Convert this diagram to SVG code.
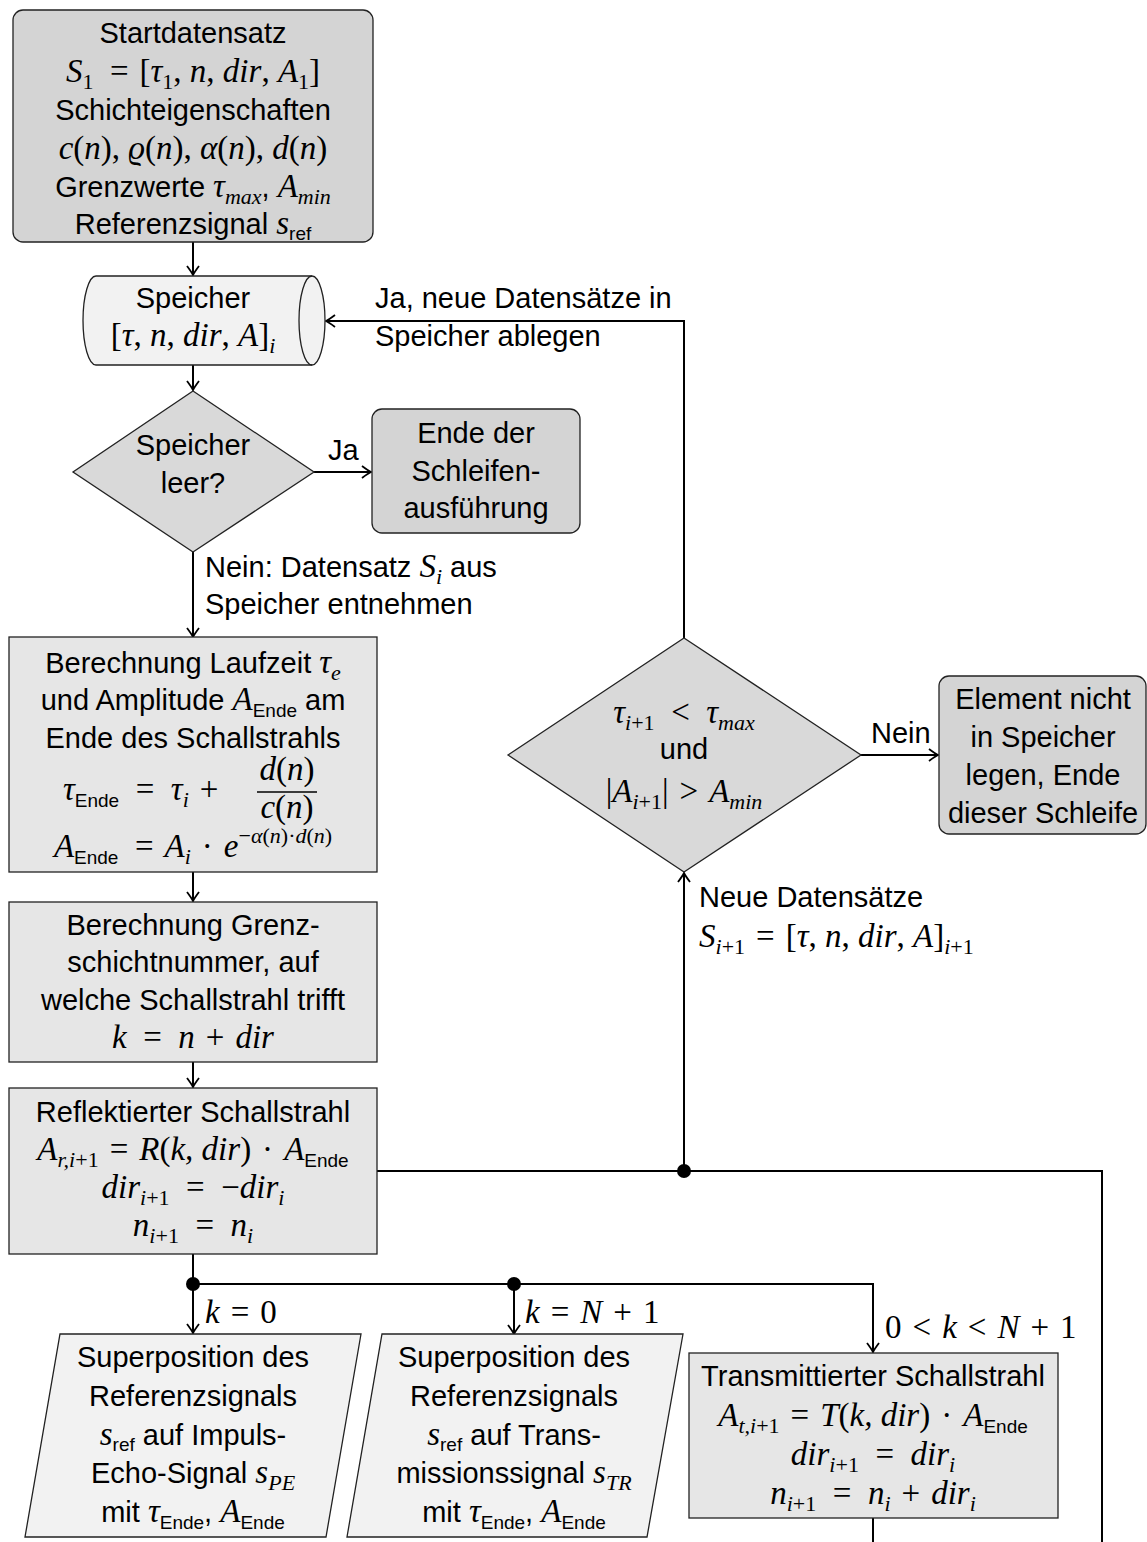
<svg xmlns="http://www.w3.org/2000/svg" width="1147" height="1542" viewBox="0 0 1147 1542">
<style>
.tx{font-family:"Liberation Sans",Arial,sans-serif;font-size:29px;fill:#000}
.c{text-anchor:middle}
.mi{font-family:"Liberation Serif","Times New Roman",serif;font-style:italic;font-size:33px}
.mr{font-family:"Liberation Serif","Times New Roman",serif;font-style:normal;font-size:33px}
.sb{font-size:22px}
.ssf{font-family:"Liberation Sans",Arial,sans-serif;font-style:normal;font-size:19px}
.dark{fill:#d4d4d4;stroke:#222;stroke-width:1.3}
.dia{fill:#d9d9d9;stroke:#222;stroke-width:1.3}
.mid{fill:#e6e6e6;stroke:#222;stroke-width:1.3}
.light{fill:#f2f2f2;stroke:#222;stroke-width:1.3}
.ln{fill:none;stroke:#000;stroke-width:2}
.ar{marker-end:url(#arr)}
</style>
<defs>
<marker id="arr" viewBox="-10 -7 12 14" refX="0" refY="0" markerWidth="12" markerHeight="14" orient="auto" markerUnits="userSpaceOnUse">
<path d="M-9,-6 Q-3,-1.5 0,0 Q-3,1.5 -9,6" fill="none" stroke="#000" stroke-width="1.8"/>
</marker>
</defs>

<g id="connectors">
<path class="ln ar" d="M193,242 V275"/>
<path class="ln ar" d="M193,365 V390"/>
<path class="ln ar" d="M314,472 H371"/>
<path class="ln ar" d="M193,552 V637"/>
<path class="ln ar" d="M193,872 V901"/>
<path class="ln ar" d="M193,1062 V1087"/>
<path class="ln ar" d="M193,1254 V1333"/>
<path class="ln ar" d="M193,1284 H873 V1352"/>
<path class="ln ar" d="M514,1284 V1334"/>
<path class="ln" d="M377,1171 H1102 V1542"/>
<path class="ln ar" d="M684,1171 V873"/>
<path class="ln ar" d="M684,638 V321 H326"/>
<path class="ln ar" d="M861,755 H938"/>
<path class="ln" d="M873,1518 V1542"/>
<circle cx="193" cy="1284" r="7" fill="#000"/>
<circle cx="514" cy="1284" r="7" fill="#000"/>
<circle cx="684" cy="1171" r="7" fill="#000"/>
<text class="tx" x="328" y="460">Ja</text>
<text class="tx" x="375" y="308">Ja, neue Datensätze in</text>
<text class="tx" x="375" y="346">Speicher ablegen</text>
<text class="tx" x="205" y="577">Nein: Datensatz <tspan class="mi">S</tspan><tspan class="mi sb" dy="7">i</tspan><tspan dy="-7"> aus</tspan></text>
<text class="tx" x="205" y="614">Speicher entnehmen</text>
<text class="tx" x="871" y="743">Nein</text>
<text class="tx" x="699" y="907">Neue Datensätze</text>
<text class="tx" x="699" y="947"><tspan class="mi">S</tspan><tspan class="mi sb" dy="7">i</tspan><tspan class="mr sb">+1</tspan><tspan class="mr" dy="-7">&#8196;=&#8196;[</tspan><tspan class="mi">τ</tspan><tspan class="mr">, </tspan><tspan class="mi">n</tspan><tspan class="mr">, </tspan><tspan class="mi">dir</tspan><tspan class="mr">, </tspan><tspan class="mi">A</tspan><tspan class="mr">]</tspan><tspan class="mi sb" dy="7">i</tspan><tspan class="mr sb">+1</tspan></text>
<text class="tx" x="205" y="1323"><tspan class="mi">k</tspan><tspan class="mr">&#8196;=&#8196;0</tspan></text>
<text class="tx" x="525" y="1323"><tspan class="mi">k</tspan><tspan class="mr">&#8196;=&#8196;</tspan><tspan class="mi">N</tspan><tspan class="mr">&#8196;+&#8196;1</tspan></text>
<text class="tx" x="885" y="1338"><tspan class="mr">0&#8196;&lt;&#8196;</tspan><tspan class="mi">k</tspan><tspan class="mr">&#8196;&lt;&#8196;</tspan><tspan class="mi">N</tspan><tspan class="mr">&#8196;+&#8196;1</tspan></text>
</g>

<g id="start">
<rect class="dark" x="13" y="10" width="360" height="232" rx="10"/>
<text class="tx c" x="193" y="43">Startdatensatz</text>
<text class="tx c" x="193" y="82"><tspan class="mi">S</tspan><tspan class="mr sb" dy="7">1</tspan><tspan class="mr" dy="-7">&#8194;=&#8196;[</tspan><tspan class="mi">τ</tspan><tspan class="mr sb" dy="7">1</tspan><tspan class="mr" dy="-7">, </tspan><tspan class="mi">n</tspan><tspan class="mr">, </tspan><tspan class="mi">dir</tspan><tspan class="mr">, </tspan><tspan class="mi">A</tspan><tspan class="mr sb" dy="7">1</tspan><tspan class="mr" dy="-7">]</tspan></text>
<text class="tx c" x="193" y="120">Schichteigenschaften</text>
<text class="tx c" x="193" y="159"><tspan class="mi">c</tspan><tspan class="mr">(</tspan><tspan class="mi">n</tspan><tspan class="mr">), </tspan><tspan class="mi">ϱ</tspan><tspan class="mr">(</tspan><tspan class="mi">n</tspan><tspan class="mr">), </tspan><tspan class="mi">α</tspan><tspan class="mr">(</tspan><tspan class="mi">n</tspan><tspan class="mr">), </tspan><tspan class="mi">d</tspan><tspan class="mr">(</tspan><tspan class="mi">n</tspan><tspan class="mr">)</tspan></text>
<text class="tx c" x="193" y="197">Grenzwerte <tspan class="mi">τ</tspan><tspan class="mi sb" dy="7">max</tspan><tspan dy="-7">, </tspan><tspan class="mi">A</tspan><tspan class="mi sb" dy="7">min</tspan></text>
<text class="tx c" x="193" y="234">Referenzsignal <tspan class="mi">s</tspan><tspan class="ssf" dy="6">ref</tspan></text>
</g>

<g id="speicher">
<path class="light" d="M96,276 H312 A13,44.5 0 0 1 312,365 H96 A13,44.5 0 0 1 96,276 Z"/>
<path d="M312,276 A13,44.5 0 0 0 312,365" fill="none" stroke="#222" stroke-width="1.3"/>
<text class="tx c" x="193" y="308">Speicher</text>
<text class="tx c" x="193" y="346"><tspan class="mr">[</tspan><tspan class="mi">τ</tspan><tspan class="mr">, </tspan><tspan class="mi">n</tspan><tspan class="mr">, </tspan><tspan class="mi">dir</tspan><tspan class="mr">, </tspan><tspan class="mi">A</tspan><tspan class="mr">]</tspan><tspan class="mi sb" dy="7">i</tspan></text>
</g>

<g id="leer">
<polygon class="dia" points="193,391 314,472 193,552 73,472"/>
<text class="tx c" x="193" y="455">Speicher</text>
<text class="tx c" x="193" y="493">leer?</text>
</g>

<g id="ende">
<rect class="dark" x="372" y="409" width="208" height="124" rx="10"/>
<text class="tx c" x="476" y="443">Ende der</text>
<text class="tx c" x="476" y="481">Schleifen-</text>
<text class="tx c" x="476" y="518">ausführung</text>
</g>

<g id="laufzeit">
<rect class="mid" x="9" y="637" width="368" height="235"/>
<text class="tx c" x="193" y="673">Berechnung Laufzeit <tspan class="mi">τ</tspan><tspan class="mi sb" dy="7">e</tspan></text>
<text class="tx c" x="193" y="710">und Amplitude <tspan class="mi">A</tspan><tspan class="ssf" dy="7">Ende</tspan><tspan dy="-7"> am</tspan></text>
<text class="tx c" x="193" y="748">Ende des Schallstrahls</text>
<text class="tx" x="63" y="800"><tspan class="mi">τ</tspan><tspan class="ssf" dy="7">Ende</tspan><tspan class="mr" dy="-7">&#8194;=&#8194;</tspan><tspan class="mi">τ</tspan><tspan class="mi sb" dy="7">i</tspan><tspan class="mr" dy="-7">&#8196;+</tspan></text>
<text class="tx c" x="287" y="780"><tspan class="mi">d</tspan><tspan class="mr">(</tspan><tspan class="mi">n</tspan><tspan class="mr">)</tspan></text>
<path d="M257,792 H317" stroke="#000" stroke-width="1.3"/>
<text class="tx c" x="287" y="818"><tspan class="mi">c</tspan><tspan class="mr">(</tspan><tspan class="mi">n</tspan><tspan class="mr">)</tspan></text>
<text class="tx c" x="193" y="857"><tspan class="mi">A</tspan><tspan class="ssf" dy="7">Ende</tspan><tspan class="mr" dy="-7">&#8194;=&#8196;</tspan><tspan class="mi">A</tspan><tspan class="mi sb" dy="7">i</tspan><tspan class="mr" dy="-7">&#8196;·&#8196;</tspan><tspan class="mi">e</tspan><tspan class="mr sb" dy="-14">−</tspan><tspan class="mi sb">α</tspan><tspan class="mr sb">(</tspan><tspan class="mi sb">n</tspan><tspan class="mr sb">)·</tspan><tspan class="mi sb">d</tspan><tspan class="mr sb">(</tspan><tspan class="mi sb">n</tspan><tspan class="mr sb">)</tspan></text>
</g>

<g id="grenzschicht">
<rect class="mid" x="9" y="902" width="368" height="160"/>
<text class="tx c" x="193" y="935">Berechnung Grenz-</text>
<text class="tx c" x="193" y="972">schichtnummer, auf</text>
<text class="tx c" x="193" y="1010">welche Schallstrahl trifft</text>
<text class="tx c" x="193" y="1048"><tspan class="mi">k</tspan><tspan class="mr">&#8194;=&#8194;</tspan><tspan class="mi">n</tspan><tspan class="mr">&#8196;+&#8196;</tspan><tspan class="mi">dir</tspan></text>
</g>

<g id="reflektiert">
<rect class="mid" x="9" y="1088" width="368" height="166"/>
<text class="tx c" x="193" y="1122">Reflektierter Schallstrahl</text>
<text class="tx c" x="193" y="1160"><tspan class="mi">A</tspan><tspan class="mi sb" dy="7">r,i</tspan><tspan class="mr sb">+1</tspan><tspan class="mr" dy="-7">&#8196;=&#8196;</tspan><tspan class="mi">R</tspan><tspan class="mr">(</tspan><tspan class="mi">k, dir</tspan><tspan class="mr">)&#8196;·&#8196;</tspan><tspan class="mi">A</tspan><tspan class="ssf" dy="7">Ende</tspan></text>
<text class="tx c" x="193" y="1198"><tspan class="mi">dir</tspan><tspan class="mi sb" dy="7">i</tspan><tspan class="mr sb">+1</tspan><tspan class="mr" dy="-7">&#8194;=&#8194;−</tspan><tspan class="mi">dir</tspan><tspan class="mi sb" dy="7">i</tspan></text>
<text class="tx c" x="193" y="1236"><tspan class="mi">n</tspan><tspan class="mi sb" dy="7">i</tspan><tspan class="mr sb">+1</tspan><tspan class="mr" dy="-7">&#8194;=&#8194;</tspan><tspan class="mi">n</tspan><tspan class="mi sb" dy="7">i</tspan></text>
</g>

<g id="impulsecho">
<polygon class="light" points="60,1334 361,1334 326,1537 25,1537"/>
<text class="tx c" x="193" y="1367">Superposition des</text>
<text class="tx c" x="193" y="1406">Referenzsignals</text>
<text class="tx c" x="193" y="1445"><tspan class="mi">s</tspan><tspan class="ssf" dy="6">ref</tspan><tspan dy="-6"> auf Impuls-</tspan></text>
<text class="tx c" x="193" y="1483">Echo-Signal <tspan class="mi">s</tspan><tspan class="mi sb" dy="7">PE</tspan></text>
<text class="tx c" x="193" y="1522">mit <tspan class="mi">τ</tspan><tspan class="ssf" dy="7">Ende</tspan><tspan dy="-7">, </tspan><tspan class="mi">A</tspan><tspan class="ssf" dy="7">Ende</tspan></text>
</g>

<g id="transmission">
<polygon class="light" points="382,1334 683,1334 647,1537 347,1537"/>
<text class="tx c" x="514" y="1367">Superposition des</text>
<text class="tx c" x="514" y="1406">Referenzsignals</text>
<text class="tx c" x="514" y="1445"><tspan class="mi">s</tspan><tspan class="ssf" dy="6">ref</tspan><tspan dy="-6"> auf Trans-</tspan></text>
<text class="tx c" x="514" y="1483">missionssignal <tspan class="mi">s</tspan><tspan class="mi sb" dy="7">TR</tspan></text>
<text class="tx c" x="514" y="1522">mit <tspan class="mi">τ</tspan><tspan class="ssf" dy="7">Ende</tspan><tspan dy="-7">, </tspan><tspan class="mi">A</tspan><tspan class="ssf" dy="7">Ende</tspan></text>
</g>

<g id="transmittiert">
<rect class="mid" x="689" y="1353" width="369" height="165"/>
<text class="tx c" x="873" y="1386">Transmittierter Schallstrahl</text>
<text class="tx c" x="873" y="1426"><tspan class="mi">A</tspan><tspan class="mi sb" dy="7">t,i</tspan><tspan class="mr sb">+1</tspan><tspan class="mr" dy="-7">&#8196;=&#8196;</tspan><tspan class="mi">T</tspan><tspan class="mr">(</tspan><tspan class="mi">k, dir</tspan><tspan class="mr">)&#8196;·&#8196;</tspan><tspan class="mi">A</tspan><tspan class="ssf" dy="7">Ende</tspan></text>
<text class="tx c" x="873" y="1465"><tspan class="mi">dir</tspan><tspan class="mi sb" dy="7">i</tspan><tspan class="mr sb">+1</tspan><tspan class="mr" dy="-7">&#8194;=&#8194;</tspan><tspan class="mi">dir</tspan><tspan class="mi sb" dy="7">i</tspan></text>
<text class="tx c" x="873" y="1504"><tspan class="mi">n</tspan><tspan class="mi sb" dy="7">i</tspan><tspan class="mr sb">+1</tspan><tspan class="mr" dy="-7">&#8194;=&#8194;</tspan><tspan class="mi">n</tspan><tspan class="mi sb" dy="7">i</tspan><tspan class="mr" dy="-7">&#8196;+&#8196;</tspan><tspan class="mi">dir</tspan><tspan class="mi sb" dy="7">i</tspan></text>
</g>

<g id="bedingung">
<polygon class="dia" points="684,638 861,755 684,872 508,755"/>
<text class="tx c" x="684" y="723"><tspan class="mi">τ</tspan><tspan class="mi sb" dy="7">i</tspan><tspan class="mr sb">+1</tspan><tspan class="mr" dy="-7">&#8194;&lt;&#8194;</tspan><tspan class="mi">τ</tspan><tspan class="mi sb" dy="7">max</tspan></text>
<text class="tx c" x="684" y="759">und</text>
<text class="tx c" x="684" y="802"><tspan class="mr">|</tspan><tspan class="mi">A</tspan><tspan class="mi sb" dy="7">i</tspan><tspan class="mr sb">+1</tspan><tspan class="mr" dy="-7">|&#8196;&gt;&#8196;</tspan><tspan class="mi">A</tspan><tspan class="mi sb" dy="7">min</tspan></text>
</g>

<g id="nichtspeichern">
<rect class="dark" x="939" y="676" width="207" height="158" rx="10"/>
<text class="tx c" x="1043" y="709">Element nicht</text>
<text class="tx c" x="1043" y="747">in Speicher</text>
<text class="tx c" x="1043" y="785">legen, Ende</text>
<text class="tx c" x="1043" y="823">dieser Schleife</text>
</g>
</svg>
